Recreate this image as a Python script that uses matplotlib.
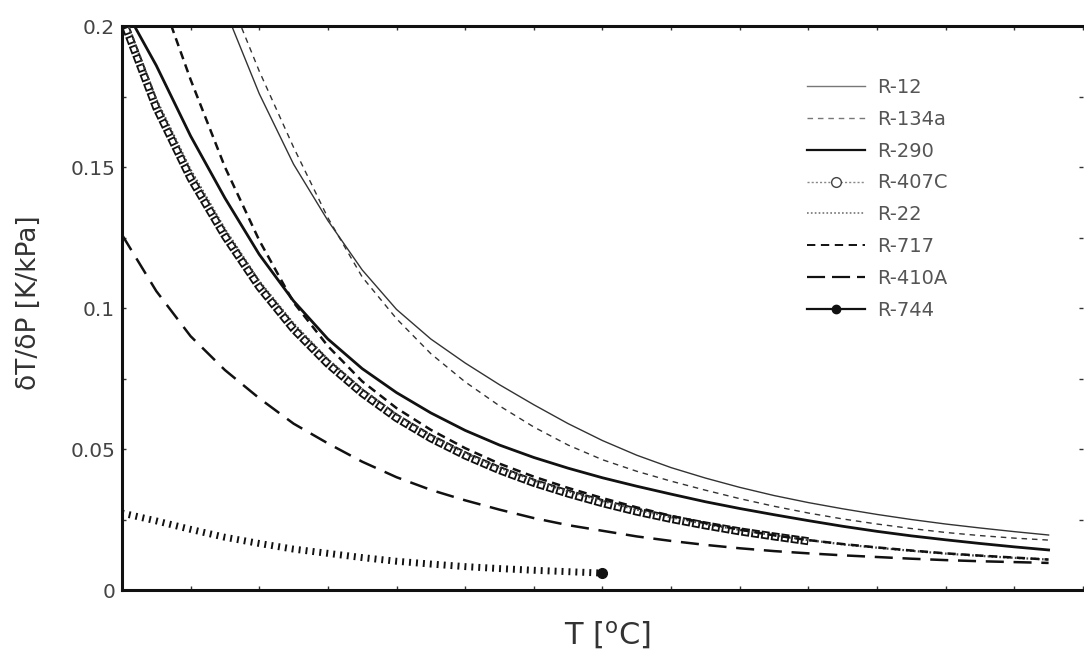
import matplotlib
matplotlib.use('Agg')
from matplotlib import pyplot as plt
from matplotlib.lines import Line2D


plt.rcParams['font.family'] = ['DejaVu Sans']
plt.rcParams['lines.scale_dashes'] = False

# temperatures [C]
T_FULL = [-40, -37.5, -35, -32.5, -30, -27.5, -25, -22.5, -20, -17.5, -15, -12.5,
          -10, -7.5, -5, -2.5, 0, 2.5, 5, 7.5, 10, 12.5, 15, 17.5, 20, 22.5, 25, 27.5]

# dT/dP [K/kPa] per refrigerant
R12_T = T_FULL[3:]
R12 = [0.206, 0.176, 0.151, 0.131, 0.1135, 0.0995, 0.089, 0.0805, 0.0728, 0.0657,
       0.059, 0.053, 0.0478, 0.0434, 0.0397, 0.0364, 0.0335, 0.031, 0.0288, 0.0268,
       0.025, 0.0234, 0.022, 0.0207, 0.0195]

R134A_T = T_FULL[3:]
R134A = [0.214, 0.184, 0.157, 0.132, 0.111, 0.0962, 0.0838, 0.0738, 0.0653, 0.0578,
         0.0514, 0.0462, 0.0421, 0.0386, 0.0354, 0.0324, 0.0297, 0.0273, 0.0252, 0.0234,
         0.0218, 0.0204, 0.0193, 0.0184, 0.0177]

R290_T = T_FULL
R290 = [0.208, 0.186, 0.161, 0.139, 0.119, 0.1025, 0.089, 0.0785, 0.070, 0.0628,
        0.0566, 0.0514, 0.047, 0.0432, 0.0398, 0.0368, 0.034, 0.0313, 0.0289, 0.0267,
        0.0246, 0.0226, 0.0208, 0.0192, 0.0178, 0.0165, 0.0153, 0.0142]

R407C_T = T_FULL[:21]
R407C = [0.203, 0.171, 0.146, 0.1255, 0.1075, 0.0925, 0.0802, 0.0698, 0.061, 0.0538,
         0.0477, 0.0425, 0.038, 0.0342, 0.0308, 0.0278, 0.0252, 0.0229, 0.0208, 0.019,
         0.0173]

R22_T = T_FULL
R22 = [0.206, 0.174, 0.149, 0.128, 0.1095, 0.0945, 0.0818, 0.0712, 0.0622, 0.0548,
       0.0486, 0.0434, 0.0389, 0.035, 0.0316, 0.0285, 0.0258, 0.0234, 0.0213, 0.0194,
       0.0177, 0.0162, 0.015, 0.0139, 0.0129, 0.0121, 0.0114, 0.0108]

R717_T = T_FULL[1:]
R717 = [0.215, 0.181, 0.150, 0.124, 0.102, 0.0865, 0.074, 0.0645, 0.0568, 0.0503,
        0.0448, 0.0402, 0.0362, 0.0326, 0.0293, 0.0263, 0.0237, 0.0214, 0.0194, 0.0177,
        0.0163, 0.0151, 0.014, 0.013, 0.0122, 0.0115, 0.0108]

R410A_T = T_FULL
R410A = [0.126, 0.106, 0.090, 0.078, 0.068, 0.059, 0.052, 0.0455, 0.040, 0.0355,
         0.0318, 0.0285, 0.0255, 0.023, 0.021, 0.019, 0.0174, 0.016, 0.0148, 0.0138,
         0.013, 0.0123, 0.0117, 0.0111, 0.0106, 0.0102, 0.0099, 0.0096]

R744_T = T_FULL[:15]
R744 = [0.0273, 0.0245, 0.0215, 0.0187, 0.0165, 0.0145, 0.0130, 0.0115, 0.0102,
        0.0092, 0.0083, 0.0076, 0.0070, 0.0065, 0.0060]

Y_TICKS = [0, 0.05, 0.1, 0.15, 0.2]
Y_LABELS = ['0', '0.05', '0.1', '0.15', '0.2']

INK = '#111111'


def main():
    fig = plt.figure(figsize=(10.84, 6.5), dpi=100)
    ax = fig.add_axes([0.1125, 0.0923, 0.8865, 0.8677])

    ax.plot(R12_T, R12, color='#333333', lw=1.0)
    ax.plot(R134A_T, R134A, color='#333333', lw=1.0, ls=(0, (4, 3.5)))

    # R-407C: hollow rings built from two stacked dash patterns
    ax.plot(R407C_T, R407C, color=INK, lw=5.8, ls=(0, (5.8, 1.4)), zorder=3)
    ax.plot(R407C_T, R407C, color='white', lw=3.2, ls=(5.9, (3.2, 4.0)), zorder=3.1)

    ax.plot(R22_T, R22, color='#444444', lw=1.6, ls=(0, (1.2, 1.6)), zorder=3.2)
    ax.plot(R290_T, R290, color=INK, lw=2.0, zorder=4)
    ax.plot(R717_T, R717, color=INK, lw=1.8, ls=(0, (6, 4)), zorder=4)
    ax.plot(R410A_T, R410A, color=INK, lw=1.8, ls=(0, (13, 7)), zorder=4)

    # R-744: dense tick marks, closed by a filled point
    ax.plot(R744_T, R744, color=INK, lw=5.0, ls=(0, (1.4, 3.6)), zorder=4)
    ax.plot(R744_T[-1:], R744[-1:], 'o', color=INK, ms=7, zorder=5)

    ax.set_xlim(-40, 30)
    ax.set_ylim(0, 0.2)
    ax.set_xticks(range(-40, 31, 5))
    ax.set_xticklabels([])
    ax.set_yticks(Y_TICKS)
    ax.set_yticklabels(Y_LABELS)
    ax.set_yticks([0.025, 0.075, 0.125, 0.175], minor=True)
    ax.tick_params(which='both', direction='in', top=True, right=True,
                   length=3, width=1, color='#333333', labelsize=14.5,
                   labelcolor='#444444', pad=5)
    for side in ['left', 'bottom', 'top']:
        ax.spines[side].set_linewidth(2.2)
        ax.spines[side].set_color(INK)
    ax.spines['right'].set_visible(False)

    ax.set_ylabel('δT/δP [K/kPa]', fontsize=19, color='#333333')
    ax.yaxis.set_label_coords(-0.083, 0.51)
    ax.set_xlabel('T [$^{\\mathrm{o}}$C]', fontsize=22, color='#333333')
    ax.xaxis.set_label_coords(0.505, -0.052)

    handles = [
        Line2D([], [], color='#777777', lw=1.0),
        Line2D([], [], color='#777777', lw=1.0, ls=(0, (4, 3.5))),
        Line2D([], [], color=INK, lw=1.6),
        Line2D([], [], color='#888888', lw=1.0, ls=(0, (1.5, 1.5)),
               marker='o', mfc='white', mec='#444444', ms=7, markevery=[1]),
        Line2D([], [], color='#888888', lw=1.4, ls=(0, (1.2, 1.6))),
        Line2D([], [], color=INK, lw=1.4, ls=(0, (6, 4))),
        Line2D([], [], color=INK, lw=1.6, ls=(0, (13, 5))),
        Line2D([], [], color=INK, lw=1.6, marker='o', ms=6, markevery=[1]),
    ]
    for h in handles:
        h.set_data([0, 0.5, 1], [0, 0, 0])
    labels = ['R-12', 'R-134a', 'R-290', 'R-407C', 'R-22', 'R-717', 'R-410A', 'R-744']
    leg = ax.legend(handles, labels, loc='upper left', bbox_to_anchor=(0.713, 0.908),
                    frameon=False, fontsize=14, handlelength=3.0, handletextpad=0.62,
                    labelspacing=0.66, borderpad=0, borderaxespad=0)
    for t in leg.get_texts():
        t.set_color('#555555')

    fig.savefig('out.png', dpi=100)


if __name__ == '__main__':
    main()
